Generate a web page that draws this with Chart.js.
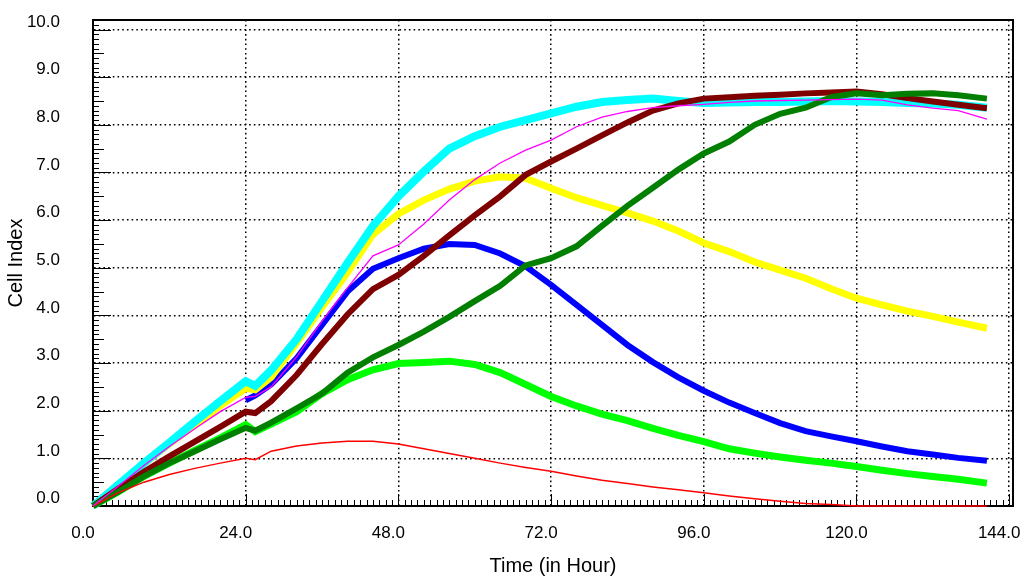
<!DOCTYPE html>
<html>
<head>
<meta charset="utf-8">
<script src="https://cdn.jsdelivr.net/npm/chart.js@4.4.1/dist/chart.umd.min.js"></script>
<style>
  html, body { margin: 0; padding: 0; background: #fff; }
  #wrap { width: 1024px; height: 581px; }
</style>
</head>
<body>
<div id="wrap"><canvas id="myChart" width="1024" height="581"></canvas></div>
<script>
// time points (hours) and cell index readings per well
var hours = [0, 4, 8, 12, 16, 20, 24, 25.5, 28, 32, 36, 40, 44, 48, 52, 56, 60, 64, 68, 72,
  76, 80, 84, 88, 92, 96, 100, 104, 108, 112, 116, 120, 124, 128, 132, 136, 140.5];

var cyan = [0, 0.45, 0.9, 1.33, 1.77, 2.2, 2.62, 2.52, 2.85, 3.5, 4.3, 5.1, 5.88, 6.5, 7.02, 7.5, 7.76, 7.96, 8.1, 8.24,
  8.38, 8.48, 8.52, 8.55, 8.5, 8.46, 8.47, 8.48, 8.48, 8.49, 8.5, 8.49, 8.48, 8.46, 8.45, 8.42, 8.36];
var yellow = [0, 0.44, 0.88, 1.3, 1.7, 2.1, 2.47, 2.44, 2.7, 3.42, 4.17, 4.9, 5.7, 6.13, 6.42, 6.65, 6.82, 6.91, 6.88, 6.67,
  6.47, 6.31, 6.15, 5.98, 5.77, 5.52, 5.34, 5.12, 4.95, 4.78, 4.56, 4.36, 4.22, 4.09, 3.98, 3.86, 3.73];
var magenta = [0, 0.42, 0.85, 1.25, 1.62, 1.98, 2.28, 2.3, 2.5, 3.13, 3.88, 4.58, 5.25, 5.48, 5.92, 6.42, 6.85, 7.2, 7.47, 7.68,
  7.96, 8.16, 8.28, 8.36, 8.4, 8.43, 8.47, 8.5, 8.51, 8.52, 8.53, 8.54, 8.52, 8.42, 8.35, 8.3, 8.12];
var blue = [null, null, null, null, null, null, 2.22, 2.32, 2.55, 3.1, 3.8, 4.5, 4.98, 5.2, 5.4, 5.5, 5.48, 5.3, 5.03, 4.64,
  4.22, 3.8, 3.38, 3.02, 2.7, 2.42, 2.17, 1.95, 1.74, 1.57, 1.46, 1.36, 1.25, 1.15, 1.08, 1.01, 0.95];
var darkRed = [0, 0.37, 0.72, 1.04, 1.35, 1.66, 1.98, 1.95, 2.2, 2.75, 3.4, 4.02, 4.55, 4.85, 5.25, 5.68, 6.1, 6.5, 6.95, 7.23,
  7.5, 7.78, 8.05, 8.3, 8.45, 8.55, 8.58, 8.61, 8.63, 8.66, 8.68, 8.7, 8.64, 8.56, 8.49, 8.42, 8.35];
var darkGreen = [0, 0.3, 0.62, 0.9, 1.15, 1.4, 1.64, 1.58, 1.75, 2.05, 2.36, 2.8, 3.12, 3.38, 3.66, 3.97, 4.3, 4.62, 5.05, 5.2,
  5.45, 5.88, 6.3, 6.68, 7.06, 7.4, 7.65, 8.0, 8.23, 8.36, 8.58, 8.66, 8.62, 8.65, 8.66, 8.62, 8.55];
var brightGreen = [0, 0.3, 0.62, 0.9, 1.17, 1.43, 1.71, 1.56, 1.72, 1.98, 2.36, 2.65, 2.86, 2.99, 3.01, 3.04, 2.97, 2.8, 2.55, 2.3,
  2.1, 1.93, 1.79, 1.63, 1.48, 1.35, 1.2, 1.11, 1.03, 0.96, 0.9, 0.83, 0.75, 0.68, 0.62, 0.56, 0.48];
var red = [0, 0.28, 0.5, 0.66, 0.79, 0.9, 1.0, 0.97, 1.15, 1.26, 1.32, 1.36, 1.36, 1.3, 1.2, 1.1, 1.0, 0.9, 0.81, 0.73,
  0.63, 0.54, 0.47, 0.4, 0.34, 0.28, 0.21, 0.15, 0.1, 0.05, 0.03, 0, 0, 0, 0, 0, 0];

var xTicks = [0, 24, 48, 72, 96, 120, 144];
var yTicks = [0, 1, 2, 3, 4, 5, 6, 7, 8, 9, 10];

function pts(vals) {
  return hours.map(function (h, i) { return { x: h, y: vals[i] }; });
}
function line(vals, color, width) {
  return { data: pts(vals), borderColor: color, backgroundColor: color, borderWidth: width,
    pointRadius: 0, tension: 0, clip: 5, spanGaps: false };
}

var tickFont = { family: "'Liberation Sans', Arial, sans-serif", size: 17 };
var titleFont = { family: "'Liberation Sans', Arial, sans-serif", size: 20 };

// small tick marks inside the axes and the box round the plot
var frame = {
  id: 'frame',
  beforeDatasetsDraw: function (chart) {
    var ctx = chart.ctx, a = chart.chartArea, x = chart.scales.x, y = chart.scales.y;
    ctx.save();
    ctx.strokeStyle = '#000';
    ctx.lineWidth = 1;
    ctx.beginPath();
    for (var h = 1; h <= 144; h++) {
      var px = Math.round(x.getPixelForValue(h)) + 0.5;
      var len = h % 24 === 0 ? 12 : 6;
      ctx.moveTo(px, a.bottom);
      ctx.lineTo(px, a.bottom - len);
    }
    for (var i = 1; i <= 101; i++) {
      var py = Math.round(y.getPixelForValue(i / 10)) + 0.5;
      var l = i % 10 === 0 ? 18 : (i % 5 === 0 ? 11 : 6);
      ctx.moveTo(a.left, py);
      ctx.lineTo(a.left + l, py);
    }
    ctx.stroke();
    ctx.lineWidth = 2;
    ctx.strokeRect(a.left, a.top, a.right - a.left, a.bottom - a.top);
    ctx.restore();
  }
};

var ctx = document.getElementById('myChart').getContext('2d');
var chart = new Chart(ctx, {
  type: 'line',
  data: {
    datasets: [
      line(magenta, '#FF00FF', 1.3),
      line(red, '#FF0000', 1.5),
      line(darkGreen, '#007F00', 6),
      line(darkRed, '#7F0000', 6),
      line(cyan, '#00FFFF', 8),
      line(yellow, '#FFFF00', 7),
      line(blue, '#0000FF', 6),
      line(brightGreen, '#00FF00', 7)
    ]
  },
  options: {
    responsive: false,
    animation: false,
    layout: { padding: { left: 0, right: 11, top: 20, bottom: 0 } },
    plugins: { legend: { display: false }, tooltip: { enabled: false } },
    scales: {
      x: {
        type: 'linear', min: 0, max: 144.6,
        afterBuildTicks: function (s) { s.ticks = xTicks.map(function (v) { return { value: v }; }); },
        afterFit: function (s) { s.height = 75; s.paddingLeft = 0; s.paddingRight = 0; },
        ticks: { color: '#000', font: tickFont, padding: 17, labelOffset: -10, maxRotation: 0,
          callback: function (v) { return Number(v).toFixed(1); } },
        grid: { color: '#000', lineWidth: 1.5, drawTicks: false },
        border: { display: true, color: '#000', width: 2, dash: [1.6, 3.1] },
        title: { display: true, text: 'Time (in Hour)', color: '#000', font: titleFont, padding: { top: 4, bottom: 3 } }
      },
      y: {
        type: 'linear', min: 0, max: 10.2,
        afterBuildTicks: function (s) { s.ticks = yTicks.map(function (v) { return { value: v }; }); },
        afterFit: function (s) { s.width = 93; s.paddingTop = 0; s.paddingBottom = 0; },
        ticks: { color: '#000', font: tickFont, padding: 33, labelOffset: -7.5,
          callback: function (v) { return Number(v).toFixed(1); } },
        grid: { color: '#000', lineWidth: 1.5, drawTicks: false },
        border: { display: true, color: '#000', width: 2, dash: [1.6, 3.1] },
        title: { display: true, text: 'Cell Index', color: '#000', font: titleFont, padding: { top: 4, bottom: 4 } }
      }
    }
  },
  plugins: [frame]
});
</script>
</body>
</html>
